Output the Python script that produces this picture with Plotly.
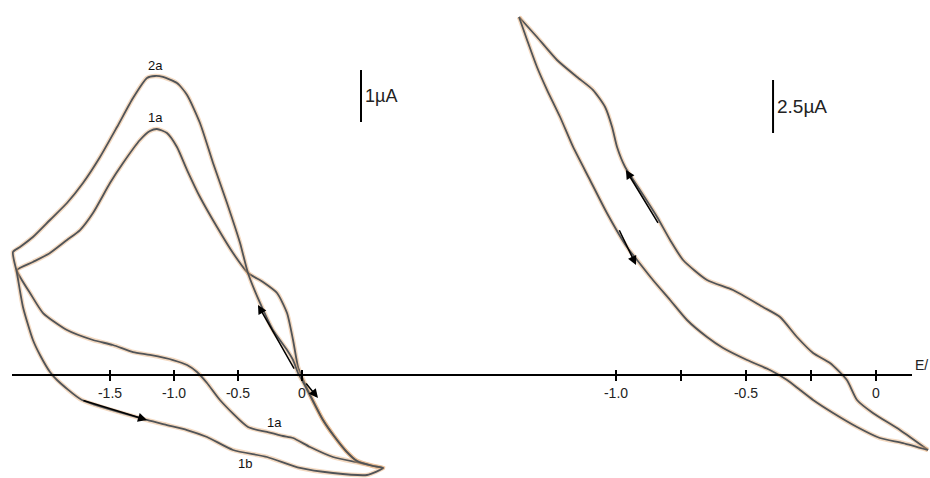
import plotly.graph_objects as go

# ---------------- Left panel (E / V, I / µA) ----------------
left_c1_E = [0.633, 0.453, 0.242, 0.063, -0.070, -0.148, -0.273, -0.422, -0.641, -0.742, -0.820, -0.898,
             -1.008, -1.188, -1.320, -1.477, -1.633, -1.836, -2.023, -2.125, -2.203, -2.227,
             -2.102, -1.969, -1.836, -1.734, -1.633, -1.500, -1.398, -1.266, -1.188, -1.133, -1.055,
             -0.977, -0.898, -0.797, -0.664, -0.539, -0.422, -0.305, -0.195, -0.117, -0.070, -0.031,
             0.000, 0.086, 0.164, 0.250, 0.344, 0.430, 0.555, 0.633]
left_c1_I = [-1.788, -1.692, -1.577, -1.385, -1.212, -1.173, -1.096, -1.000, -0.481, -0.154, 0.058, 0.192,
             0.288, 0.385, 0.442, 0.577, 0.673, 0.865, 1.192, 1.577, 1.885, 2.019,
             2.173, 2.346, 2.596, 2.788, 3.115, 3.692, 4.077, 4.519, 4.692, 4.731, 4.654,
             4.385, 3.942, 3.423, 2.846, 2.346, 1.962, 1.788, 1.577, 1.192, 0.673, 0.154,
             -0.038, -0.500, -0.865, -1.173, -1.462, -1.654, -1.750, -1.788]

left_c2_E = [0.633, 0.508, 0.242, -0.016, -0.273, -0.539, -0.742, -0.898, -1.055, -1.211, -1.719,
             -1.914, -1.969, -2.047, -2.102, -2.180, -2.227, -2.258,
             -2.203, -2.102, -1.969, -1.836, -1.711, -1.578, -1.445, -1.320, -1.211, -1.148,
             -1.086, -0.977, -0.898, -0.797, -0.695, -0.586, -0.484, -0.422, -0.328, -0.227,
             -0.117, -0.070, -0.031, 0.000, 0.086, 0.164, 0.250, 0.344, 0.430, 0.555, 0.633]
left_c2_I = [-1.788, -1.923, -1.885, -1.788, -1.577, -1.442, -1.192, -1.058, -0.962, -0.865, -0.481,
             -0.096, 0.058, 0.385, 0.673, 1.308, 1.962, 2.365,
             2.462, 2.654, 2.981, 3.308, 3.692, 4.192, 4.769, 5.327, 5.712, 5.750,
             5.731, 5.615, 5.385, 4.846, 4.077, 3.308, 2.538, 1.962, 1.385, 0.865,
             0.481, 0.288, 0.038, -0.096, -0.500, -0.865, -1.173, -1.462, -1.654, -1.750, -1.788]

left_ticks = [-1.5, -1.0, -0.5, 0.0]
left_ticklabels = ["-1.5", "-1.0", "-0.5", "0"]

# ---------------- Right panel (E / V, I / µA) ----------------
right_up_E = [-1.373, -1.304, -1.227, -1.150, -1.088, -1.042, -1.015, -0.996, -0.965, -0.908, -0.842,
              -0.792, -0.742, -0.650, -0.550, -0.435, -0.369, -0.304, -0.242, -0.177, -0.112,
              -0.073, -0.012, 0.092, 0.200]
right_up_I = [16.887, 15.943, 14.858, 14.057, 13.443, 12.642, 11.698, 10.755, 9.811, 8.726, 7.453,
              6.368, 5.425, 4.481, 4.009, 3.208, 2.736, 1.792, 1.038, 0.566, -0.236,
              -1.179, -1.792, -2.594, -3.538]
right_lo_E = [-1.373, -1.342, -1.304, -1.265, -1.215, -1.165, -1.100, -1.035, -0.958, -0.919, -0.858,
              -0.792, -0.727, -0.650, -0.588, -0.496, -0.408, -0.342, -0.292, -0.242, -0.165,
              -0.073, 0.015, 0.104, 0.200]
right_lo_I = [16.887, 15.802, 14.528, 13.443, 12.170, 10.755, 9.198, 7.642, 6.038, 5.425, 4.481,
              3.538, 2.594, 1.792, 1.274, 0.708, 0.236, -0.236, -0.708, -1.179, -1.792,
              -2.453, -2.972, -3.208, -3.538]

right_ticks = [-1.0, -0.75, -0.5, -0.25, 0.0]
right_ticklabels = ["-1.0", "", "-0.5", "", "0"]

# annotations (head E, head I, tail E, tail I)
left_arrows = [(-1.211, -0.865, -1.719, -0.481),
               (-0.344, 1.346, -0.055, 0.096),
               (0.125, -0.442, 0.023, -0.135)]
right_arrows = [(-0.962, 9.67, -0.835, 7.10),
                (-0.923, 5.19, -0.990, 6.90)]

left_labels = [("2a", -1.148, 5.95), ("1a", -1.148, 4.95), ("1a", -0.211, -0.92), ("1b", -0.445, -1.70)]

left_scale = (0.461, 4.865, 5.865, "1µA")      # 1 µA
right_scale = (-0.396, 11.415, 13.915, "2.5µA")  # 2.5 µA

LINE = "#505458"
HALO = "rgba(225,160,100,0.40)"

fig = go.Figure()

def add_curve(E, I, xa, ya):
    fig.add_trace(go.Scatter(x=E, y=I, mode="lines", xaxis=xa, yaxis=ya,
                             line=dict(color=HALO, width=4.5, shape="spline", smoothing=0.6),
                             hoverinfo="skip", showlegend=False))
    fig.add_trace(go.Scatter(x=E, y=I, mode="lines", xaxis=xa, yaxis=ya,
                             line=dict(color=LINE, width=1.8, shape="spline", smoothing=0.6),
                             showlegend=False))

add_curve(left_c1_E, left_c1_I, "x", "y")
add_curve(left_c2_E, left_c2_I, "x", "y")
add_curve(right_up_E, right_up_I, "x2", "y2")
add_curve(right_lo_E, right_lo_I, "x2", "y2")

W, H = 930, 478
ax_y = 369  # pixel of tick start

fig.update_layout(
    width=W, height=H, margin=dict(l=0, r=0, t=0, b=0),
    paper_bgcolor="white", plot_bgcolor="rgba(0,0,0,0)",
    font=dict(family="Liberation Sans, Arial, sans-serif", color="#111111"),
    xaxis=dict(domain=[0, 440 / W], range=[-302 / 128, 138 / 128], anchor="free",
               position=(H - ax_y) / H, showline=False, showgrid=False, zeroline=False,
               tickmode="array", tickvals=left_ticks, ticktext=left_ticklabels,
               ticks="outside", ticklen=11, tickwidth=2, tickcolor="black",
               tickfont=dict(size=14, color="#222")),
    yaxis=dict(domain=[0, 1], range=[-103 / 52, 375 / 52], visible=False),
    xaxis2=dict(domain=[480 / W, 1], range=[-396 / 260, 54 / 260], anchor="free",
                position=(H - ax_y) / H, showline=False, showgrid=False, zeroline=False,
                tickmode="array", tickvals=right_ticks, ticktext=right_ticklabels,
                ticks="outside", ticklen=11, tickwidth=2, tickcolor="black",
                tickfont=dict(size=14, color="#222")),
    yaxis2=dict(domain=[0, 1], range=[-103 / 21.2, 375 / 21.2], anchor="x2", visible=False),
)

# horizontal axis line (shared baseline at I = 0)
fig.add_shape(type="line", xref="paper", yref="y", x0=12 / W, x1=912 / W, y0=0, y1=0,
              line=dict(color="black", width=2))

# scale bars
for (e, i0, i1, txt), xr, yr, fs in [(left_scale, "x", "y", 18), (right_scale, "x2", "y2", 19)]:
    fig.add_shape(type="line", xref=xr, yref=yr, x0=e, x1=e, y0=i0, y1=i1,
                  line=dict(color="black", width=2))
    fig.add_annotation(x=e, y=(i0 + i1) / 2, xref=xr, yref=yr, text=txt, showarrow=False,
                       xanchor="left", xshift=2, font=dict(size=fs, color="#222"))

for txt, e, i in left_labels:
    fig.add_annotation(x=e, y=i, xref="x", yref="y", text=txt, showarrow=False,
                       font=dict(size=13, color="#111"))

for (he, hi, te, ti) in left_arrows:
    fig.add_annotation(x=he, y=hi, ax=te, ay=ti, xref="x", yref="y", axref="x", ayref="y",
                       showarrow=True, arrowhead=2, arrowsize=1.2, arrowwidth=1.5,
                       arrowcolor="black", text="")
for (he, hi, te, ti) in right_arrows:
    fig.add_annotation(x=he, y=hi, ax=te, ay=ti, xref="x2", yref="y2", axref="x2", ayref="y2",
                       showarrow=True, arrowhead=2, arrowsize=1.2, arrowwidth=1.5,
                       arrowcolor="black", text="")

fig.add_annotation(x=(915 - 876) / 260, y=0.47, xref="x2", yref="y2", text="E/",
                   showarrow=False, xanchor="left", xshift=-2, font=dict(size=14, color="#222"))

fig.write_html("out.html", config={"displayModeBar": False},
               post_script="document.body.style.margin='0';")
